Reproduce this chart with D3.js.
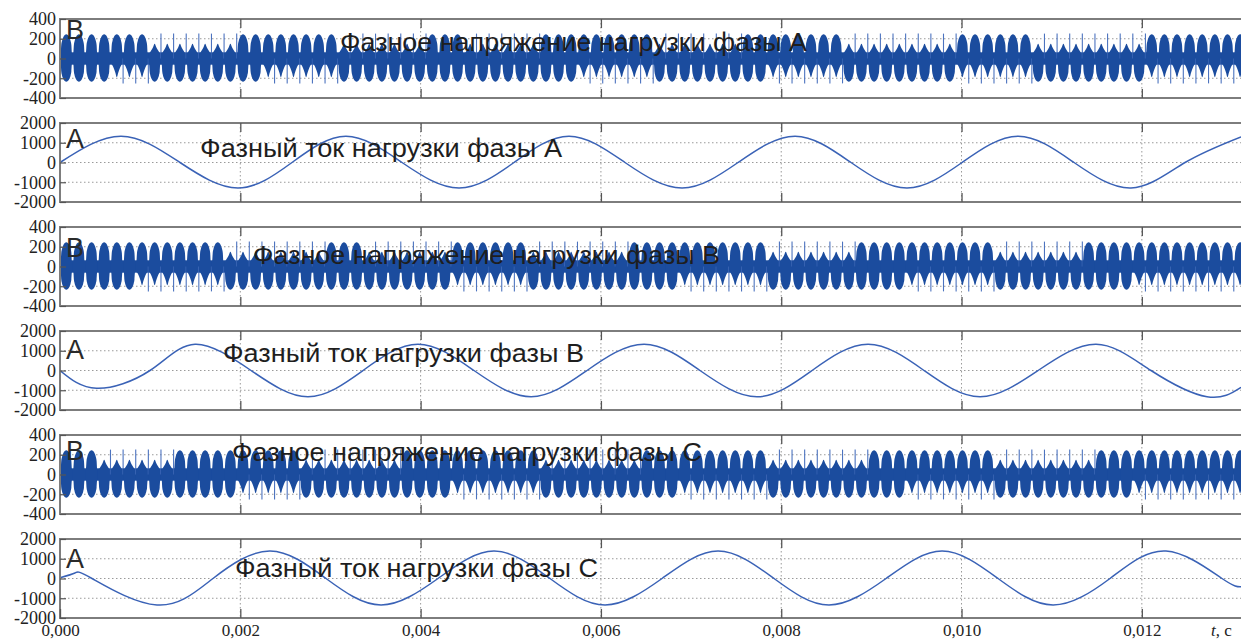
<!DOCTYPE html>
<html lang="ru">
<head>
<meta charset="UTF-8">
<title>Фазные напряжения и токи нагрузки</title>
<script src="https://d3js.org/d3.v7.min.js"></script>
<style>
  body { margin: 0; background: #fff; }
  svg { display: block; }
</style>
</head>
<body>
<script>
// ---- data ----
const xTicks = [0, 0.002, 0.004, 0.006, 0.008, 0.010, 0.012];
const xTickLabels = ["0,000", "0,002", "0,004", "0,006", "0,008", "0,010", "0,012"];
const tEnd = 0.0131;

const voltTicks = [-400, -200, 0, 200, 400];
const currTicks = [-2000, -1000, 0, 1000, 2000];

// voltage: dense PWM lobes, grouped in runs of lobes with the same extent
const lobeStep = 0.00014;
const voltA_len = [4, 3, 7, 2, 6, 7, 3, 6, 3, 6, 7, 2, 6, 9, 6, 9, 8];
const voltA_hi  = [245, 245, 150, 245, 245, 150, 245, 150, 245, 245, 150, 245, 245, 150, 245, 150, 245];
const voltA_lo  = [-235, -190, -235, -235, -190, -235, -235, -235, -235, -190, -235, -235, -190, -235, -190, -235, -190];

const voltB_len = [6, 7, 8, 3, 7, 6, 8, 4, 7, 7, 4, 7, 7, 4, 9];
const voltB_hi  = [245, 245, 150, 245, 150, 245, 150, 245, 245, 150, 245, 245, 150, 245, 245];
const voltB_lo  = [-235, -190, -235, -235, -235, -190, -235, -235, -190, -235, -235, -190, -235, -235, -190];

const voltC_len = [3, 6, 5, 5, 8, 4, 7, 8, 3, 7, 8, 3, 7, 8, 3, 9];
const voltC_hi  = [245, 150, 245, 245, 150, 245, 245, 150, 245, 245, 150, 245, 245, 150, 245, 245];
const voltC_lo  = [-235, -235, -235, -190, -235, -235, -190, -235, -235, -190, -235, -235, -190, -235, -235, -190];

// currents: extremes and zero crossings
const curA_t = [0, 0.000677, 0.001331, 0.001974, 0.002573, 0.003172, 0.003794, 0.004426, 0.005036, 0.005646, 0.006267,
                0.006900, 0.007521, 0.008153, 0.008774, 0.009395, 0.010006, 0.010627, 0.011248, 0.011880, 0.012479, 0.013100];
const curA_v = [0, 1330, 0, -1290, 0, 1330, 0, -1290, 0, 1330, 0, -1290, 0, 1330, 0, -1290, 0, 1330, 0, -1290, 0, 1300];

const curB_t = [0, 0.000405, 0.000998, 0.001498, 0.002119, 0.002751, 0.003361, 0.003971, 0.004592, 0.005225, 0.005846,
                0.006478, 0.007099, 0.007731, 0.008342, 0.008963, 0.009584, 0.010205, 0.010849, 0.011492, 0.012102, 0.012723, 0.013100];
const curB_v = [0, -900, 0, 1330, 0, -1330, 0, 1330, 0, -1330, 0, 1330, 0, -1330, 0, 1330, 0, -1330, 0, 1330, 0, -1330, -850];

const curC_t = [0, 0.000166, 0.000355, 0.001076, 0.001697, 0.002329, 0.002951, 0.003561, 0.004193, 0.004814, 0.005435,
                0.006046, 0.006678, 0.007299, 0.007920, 0.008530, 0.009163, 0.009784, 0.010405, 0.011015, 0.011647, 0.012268, 0.012889, 0.013100];
const curC_v = [40, 280, 0, -1340, 0, 1390, 0, -1340, 0, 1390, 0, -1340, 0, 1390, 0, -1340, 0, 1390, 0, -1340, 0, 1390, 0, -420];

const titles = [
  "Фазное напряжение нагрузки фазы А",
  "Фазный ток нагрузки фазы А",
  "Фазное напряжение нагрузки фазы В",
  "Фазный ток нагрузки фазы В",
  "Фазное напряжение нагрузки фазы С",
  "Фазный ток нагрузки фазы С"
];
const unitLetters = ["В", "А", "В", "А", "В", "А"];

// ---- layout ----
const W = 1241, H = 641;
const plotL = 60, plotR = 1241;
const panelTop = [19, 123, 227, 331, 435, 539];
const panelH = 79;
const titleX = [340, 200, 253, 223, 232, 235];
const titleW = [467, 362, 467, 361, 470, 363];
const titleY = [51, 157, 264, 362, 461, 577];
const letterY = [39, 148, 257, 359, 460, 568];

const panels = [
  { kind: "volt", len: voltA_len, hi: voltA_hi, lo: voltA_lo },
  { kind: "curr", t: curA_t, v: curA_v },
  { kind: "volt", len: voltB_len, hi: voltB_hi, lo: voltB_lo },
  { kind: "curr", t: curB_t, v: curB_v },
  { kind: "volt", len: voltC_len, hi: voltC_hi, lo: voltC_lo },
  { kind: "curr", t: curC_t, v: curC_v }
];

const svg = d3.select("body").append("svg")
  .attr("width", W).attr("height", H)
  .style("background", "#fff");

const x = d3.scaleLinear().domain([0, tEnd]).range([plotL, plotR]);

const serif = "'Liberation Serif', 'Times New Roman', serif";
const sans = "'Liberation Sans', Arial, sans-serif";

// lobe profile offsets inside one carrier step
const fr = [-0.5, -0.44, -0.4, -0.34, -0.24, -0.12, 0, 0.12, 0.24, 0.34, 0.4, 0.44, 0.5];
const band = 60;

panels.forEach((p, i) => {
  const top = panelTop[i];
  const ticks = p.kind === "volt" ? voltTicks : currTicks;
  const vmax = ticks[ticks.length - 1];
  const y = d3.scaleLinear().domain([-vmax, vmax]).range([top + panelH, top]);

  const g = svg.append("g");

  svg.append("clipPath").attr("id", "clip" + i)
    .append("rect").attr("x", plotL).attr("y", top).attr("width", plotR - plotL).attr("height", panelH);

  // dotted grid
  g.selectAll(".hg").data(ticks.slice(1, -1)).enter().append("line")
    .attr("x1", plotL).attr("x2", plotR)
    .attr("y1", d => y(d)).attr("y2", d => y(d))
    .attr("stroke", "#9a9a9a").attr("stroke-width", 1).attr("stroke-dasharray", "1.5,2.5");
  g.selectAll(".vg").data(xTicks.slice(1)).enter().append("line")
    .attr("x1", d => x(d)).attr("x2", d => x(d))
    .attr("y1", top).attr("y2", top + panelH)
    .attr("stroke", "#9a9a9a").attr("stroke-width", 1).attr("stroke-dasharray", "1.5,2.5");

  const data = g.append("g").attr("clip-path", `url(#clip${i})`);

  if (p.kind === "volt") {
    const lobes = [];
    let k = 0;
    p.len.forEach((n, s) => {
      for (let j = 0; j < n; j++) {
        lobes.push({ t: (k + 0.5) * lobeStep, hi: p.hi[s], lo: p.lo[s] });
        k++;
      }
    });
    // round (wide) lobes vs narrow pointed ones
    const shape = (v, f) => Math.abs(v) > 220
      ? Math.sqrt(Math.max(0, 1 - (f / 0.44) * (f / 0.44)))
      : Math.pow(Math.max(0, 1 - Math.abs(f) / 0.4), 1.3);
    const area = d3.area()
      .x(d => x(d.t))
      .y0(d => y(d.lo))
      .y1(d => y(d.hi))
      .curve(d3.curveMonotoneX);

    // solid centre band
    data.append("rect")
      .attr("x", plotL).attr("width", plotR - plotL)
      .attr("y", y(band)).attr("height", y(-band) - y(band))
      .attr("fill", "#1b4c9e");

    lobes.forEach(L => {
      const pts = fr.map(f => ({
        t: L.t + f * lobeStep,
        hi: band + (L.hi - band) * shape(L.hi, f),
        lo: -band + (L.lo + band) * shape(L.lo, f)
      }));
      data.append("path").attr("d", area(pts)).attr("fill", "#1b4c9e");
      // thin switching spikes on the narrow side
      const xs = x(L.t + 0.5 * lobeStep);
      if (L.hi < 220) {
        data.append("line").attr("x1", xs).attr("x2", xs)
          .attr("y1", y(0)).attr("y2", y(252))
          .attr("stroke", "#4c73bf").attr("stroke-width", 1.1);
      }
      if (L.lo > -220) {
        data.append("line").attr("x1", xs).attr("x2", xs)
          .attr("y1", y(0)).attr("y2", y(-252))
          .attr("stroke", "#4c73bf").attr("stroke-width", 1.1);
      }
    });
  } else {
    const pts = p.t.map((t, j) => [t, p.v[j]]);
    const line = d3.line().x(d => x(d[0])).y(d => y(d[1])).curve(d3.curveNatural);
    data.append("path").attr("d", line(pts))
      .attr("fill", "none").attr("stroke", "#3a62b6").attr("stroke-width", 1.5);
  }

  // frame
  g.append("path")
    .attr("d", `M${plotR},${top}H${plotL}V${top + panelH}H${plotR}`)
    .attr("fill", "none").attr("stroke", "#7d7d7d").attr("stroke-width", 2);

  // y axis
  const ya = g.append("g").attr("transform", `translate(${plotL},0)`)
    .call(d3.axisLeft(y).tickValues(ticks).tickSize(-6).tickPadding(4).tickFormat(d => String(d)));
  ya.select(".domain").remove();
  ya.selectAll(".tick line").attr("stroke", "#555").attr("stroke-width", 1.2);
  ya.selectAll(".tick text").attr("font-family", serif).attr("font-size", 18).attr("fill", "#222");

  // x ticks top & bottom
  const last = i === panels.length - 1;
  const xb = g.append("g").attr("transform", `translate(0,${top + panelH})`)
    .call(d3.axisBottom(x).tickValues(last ? xTicks : xTicks.slice(1)).tickSize(-9).tickPadding(6)
      .tickFormat((d, j) => last ? xTickLabels[j] : ""));
  const xt = g.append("g").attr("transform", `translate(0,${top})`)
    .call(d3.axisTop(x).tickValues(xTicks.slice(1)).tickSize(-9).tickFormat(""));
  [xb, xt].forEach(a => {
    a.select(".domain").remove();
    a.selectAll(".tick line").attr("stroke", "#555").attr("stroke-width", 1.3);
  });
  xb.selectAll(".tick text").attr("font-family", serif).attr("font-size", 17).attr("fill", "#222");

  // unit letter and title
  g.append("text").attr("x", 66).attr("y", letterY[i])
    .attr("font-family", sans).attr("font-size", 27).attr("fill", "#2a2a2a")
    .text(unitLetters[i]);
  g.append("text").attr("x", titleX[i]).attr("y", titleY[i])
    .attr("font-family", sans).attr("font-size", 26).attr("fill", "#1e1e1e")
    .attr("textLength", titleW[i]).attr("lengthAdjust", "spacingAndGlyphs")
    .text(titles[i]);
});

// axis name
const lastBottom = panelTop[5] + panelH;
const axName = svg.append("text").attr("x", 1211).attr("y", lastBottom + 18)
  .attr("font-family", serif).attr("font-size", 17).attr("fill", "#222");
axName.append("tspan").attr("font-style", "italic").text("t");
axName.append("tspan").text(", с");
</script>
</body>
</html>
